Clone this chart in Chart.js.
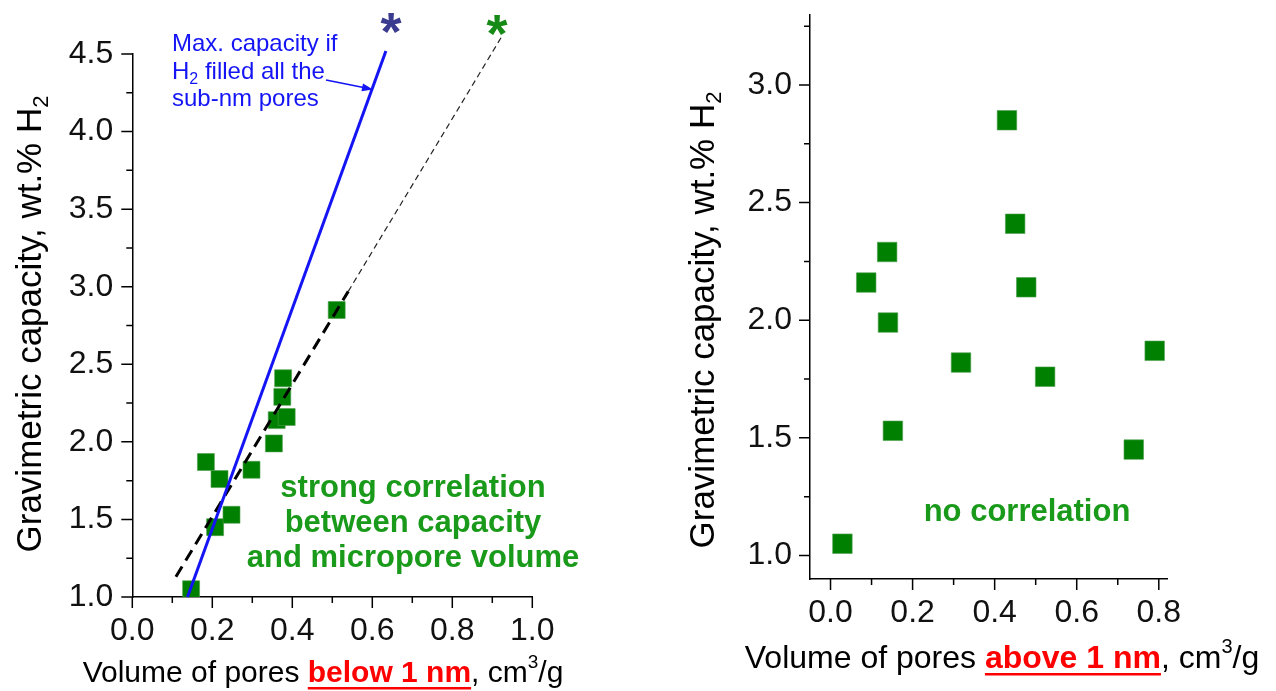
<!DOCTYPE html>
<html>
<head>
<meta charset="utf-8">
<script src="https://cdn.jsdelivr.net/npm/chart.js@4.4.1/dist/chart.umd.min.js"></script>
<style>
  body { margin: 0; background: #fff; }
  canvas { position: absolute; top: 0; }
  #leftChart { left: 0; }
  #rightChart { left: 640px; }
</style>
</head>
<body>
<canvas id="leftChart" width="640" height="691"></canvas>
<canvas id="rightChart" width="636" height="691"></canvas>
<script>
// capacity values, wt.% H2 (same samples on both panels)
const capacity = [1.05, 1.45, 1.53, 1.76, 1.82, 1.87, 1.99, 2.14, 2.16, 2.29, 2.41, 2.85];
// pore volume below 1 nm, cm3/g
const volumeBelow = [0.147, 0.207, 0.248, 0.218, 0.298, 0.184, 0.354, 0.361, 0.386, 0.375, 0.377, 0.511];
// pore volume above 1 nm, cm3/g
const volumeAbove = [0.029, 0.739, 0.152, 0.523, 0.318, 0.79, 0.14, 0.477, 0.087, 0.138, 0.45, 0.43];

// max capacity line (blue) and fitted trend (dashed)
const maxLineX = [0.138, 0.634];
const maxLineY = [1.0, 4.52];
const fitLineX = [0.109, 0.54];
const fitLineY = [1.13, 2.97];
const fitExtX = [0.54, 0.923];
const fitExtY = [2.97, 4.61];

const leftXTicks = [0, 0.2, 0.4, 0.6, 0.8, 1.0];
const leftXMinor = [0.1, 0.3, 0.5, 0.7, 0.9];
const leftYTicks = [1.0, 1.5, 2.0, 2.5, 3.0, 3.5, 4.0, 4.5];
const leftYMinor = [1.25, 1.75, 2.25, 2.75, 3.25, 3.75, 4.25];
const rightXTicks = [0, 0.2, 0.4, 0.6, 0.8];
const rightXMinor = [0.1, 0.3, 0.5, 0.7];
const rightYTicks = [1.0, 1.5, 2.0, 2.5, 3.0];
const rightYMinor = [1.25, 1.75, 2.25, 2.75, 3.25];

const FONT = '"Liberation Sans", Arial, sans-serif';
const GREEN_MARK = '#008000';
const GREEN_TEXT = '#1a9a1a';
const BLUE = '#1414f5';

function pts(xs, ys) {
    return xs.map((x, i) => ({ x: x, y: ys[i] }));
}

function drawRich(ctx, parts, x, y, align, rotate) {
    ctx.save();
    ctx.translate(x, y);
    if (rotate) ctx.rotate(-Math.PI / 2);
    ctx.textBaseline = 'alphabetic';
    ctx.textAlign = 'left';
    let total = 0;
    parts.forEach(p => {
        ctx.font = p.font;
        p.w = ctx.measureText(p.text).width;
        total += p.w;
    });
    let cx = align === 'left' ? 0 : -total / 2;
    parts.forEach(p => {
        ctx.font = p.font;
        ctx.fillStyle = p.color || '#000';
        ctx.fillText(p.text, cx, p.dy || 0);
        if (p.underline) ctx.fillRect(cx, 5, p.w, 2.5);
        cx += p.w;
    });
    ctx.restore();
}

// draws major and minor tick marks outside the axes
const tickMarks = {
    id: 'tickMarks',
    afterDraw(chart, args, opts) {
        const ctx = chart.ctx;
        const xs = chart.scales.x, ys = chart.scales.y;
        ctx.save();
        ctx.strokeStyle = '#000';
        ctx.lineWidth = 1.5;
        ctx.beginPath();
        opts.xMajor.forEach(v => { const p = xs.getPixelForValue(v); ctx.moveTo(p, xs.top); ctx.lineTo(p, xs.top + 11); });
        opts.xMinor.forEach(v => { const p = xs.getPixelForValue(v); ctx.moveTo(p, xs.top); ctx.lineTo(p, xs.top + 6); });
        opts.yMajor.forEach(v => { const p = ys.getPixelForValue(v); ctx.moveTo(ys.right, p); ctx.lineTo(ys.right - 11, p); });
        opts.yMinor.forEach(v => { const p = ys.getPixelForValue(v); ctx.moveTo(ys.right, p); ctx.lineTo(ys.right - 6, p); });
        ctx.stroke();
        ctx.restore();
    }
};

const leftNotes = {
    id: 'leftNotes',
    afterDraw(chart) {
        const ctx = chart.ctx;
        const xs = chart.scales.x, ys = chart.scales.y;
        const n = '30px ' + FONT, b = 'bold 30px ' + FONT, s = '19px ' + FONT;
        drawRich(ctx, [
            { text: 'Volume of pores ', font: n },
            { text: 'below 1 nm', font: b, color: '#f00', underline: true },
            { text: ', cm', font: n },
            { text: '3', font: s, dy: -14 },
            { text: '/g', font: n }
        ], 323, 682, 'center', false);
        drawRich(ctx, [
            { text: 'Gravimetric capacity, wt.% H', font: '35px ' + FONT },
            { text: '2', font: '22px ' + FONT, dy: 7 }
        ], 41, 324, 'center', true);

        // blue label and arrow
        const bn = '24px ' + FONT, bs = '16px ' + FONT;
        drawRich(ctx, [{ text: 'Max. capacity if', font: bn, color: BLUE }], 172, 51, 'left');
        drawRich(ctx, [
            { text: 'H', font: bn, color: BLUE },
            { text: '2', font: bs, color: BLUE, dy: 5 },
            { text: ' filled all the', font: bn, color: BLUE }
        ], 172, 79, 'left');
        drawRich(ctx, [{ text: 'sub-nm pores', font: bn, color: BLUE }], 172, 106, 'left');
        ctx.save();
        ctx.strokeStyle = BLUE; ctx.fillStyle = BLUE; ctx.lineWidth = 1.6;
        ctx.beginPath(); ctx.moveTo(326, 80); ctx.lineTo(366, 88); ctx.stroke();
        const ang = Math.atan2(9, 46);
        ctx.translate(373, 89.5); ctx.rotate(ang);
        ctx.beginPath(); ctx.moveTo(0, 0); ctx.lineTo(-11, -4); ctx.lineTo(-11, 4); ctx.closePath(); ctx.fill();
        ctx.restore();

        // asterisks marking the line ends
        ctx.save();
        ctx.font = 'bold 54px ' + FONT;
        ctx.textAlign = 'center'; ctx.textBaseline = 'middle';
        ctx.fillStyle = '#3b3b8f';
        ctx.fillText('*', xs.getPixelForValue(0.647), ys.getPixelForValue(4.62));
        ctx.fillStyle = '#168a16';
        ctx.fillText('*', xs.getPixelForValue(0.912), ys.getPixelForValue(4.61));

        ctx.font = 'bold 31px ' + FONT;
        ctx.fillStyle = GREEN_TEXT;
        ctx.fillText('strong correlation', 413, 488);
        ctx.fillText('between capacity', 413, 523);
        ctx.fillText('and micropore volume', 413, 558);
        ctx.restore();
    }
};

const rightNotes = {
    id: 'rightNotes',
    afterDraw(chart) {
        const ctx = chart.ctx;
        const n = '32px ' + FONT, b = 'bold 32px ' + FONT, s = '20px ' + FONT;
        drawRich(ctx, [
            { text: 'Volume of pores ', font: n },
            { text: 'above 1 nm', font: b, color: '#f00', underline: true },
            { text: ', cm', font: n },
            { text: '3', font: s, dy: -15 },
            { text: '/g', font: n }
        ], 362, 668, 'center', false);
        drawRich(ctx, [
            { text: 'Gravimetric capacity, wt.% H', font: '35px ' + FONT },
            { text: '2', font: '22px ' + FONT, dy: 7 }
        ], 74, 320, 'center', true);
        ctx.save();
        ctx.font = 'bold 31px ' + FONT;
        ctx.fillStyle = GREEN_TEXT;
        ctx.textAlign = 'center'; ctx.textBaseline = 'middle';
        ctx.fillText('no correlation', 387, 512);
        ctx.restore();
    }
};

function axis(min, max, ticks, isY, size, pad) {
    return {
        type: 'linear',
        min: min,
        max: max,
        afterBuildTicks: scale => { scale.ticks = ticks.map(v => ({ value: v })); },
        afterFit: scale => {
            if (isY) scale.width = size; else scale.height = size;
            scale.paddingTop = 0; scale.paddingBottom = 0;
            scale.paddingLeft = 0; scale.paddingRight = 0;
        },
        grid: { display: true, drawOnChartArea: false, drawTicks: false },
        border: { display: true, color: '#000', width: 1.5 },
        ticks: {
            color: '#111',
            padding: pad,
            font: { family: FONT, size: 32 },
            callback: v => v.toFixed(1)
        }
    };
}

Chart.defaults.animation = false;

new Chart(document.getElementById('leftChart'), {
    type: 'scatter',
    data: {
        datasets: [
            { data: pts(maxLineX, maxLineY), showLine: true, borderColor: BLUE, borderWidth: 3, pointRadius: 0, clip: false },
            { data: pts(fitLineX, fitLineY), showLine: true, borderColor: '#000', borderWidth: 3, borderDash: [12, 7], pointRadius: 0, clip: false },
            { data: pts(fitExtX, fitExtY), showLine: true, borderColor: '#222', borderWidth: 1.2, borderDash: [6, 4], pointRadius: 0, clip: false },
            { data: pts(volumeBelow, capacity), pointStyle: 'rect', pointRadius: 12, backgroundColor: GREEN_MARK, borderColor: '#4fa04f', borderWidth: 0.6 }
        ]
    },
    options: {
        responsive: false,
        devicePixelRatio: 1,
        layout: { padding: { left: 0, top: 54, right: 107.7, bottom: 44 } },
        plugins: {
            legend: { display: false },
            tooltip: { enabled: false },
            tickMarks: { xMajor: leftXTicks, xMinor: leftXMinor, yMajor: leftYTicks, yMinor: leftYMinor }
        },
        scales: {
            x: axis(0, 1.0, leftXTicks, false, 50, 15),
            y: axis(1.0, 4.5, leftYTicks, true, 132.3, 19)
        }
    },
    plugins: [tickMarks, leftNotes]
});

new Chart(document.getElementById('rightChart'), {
    type: 'scatter',
    data: {
        datasets: [
            { data: pts(volumeAbove, capacity), pointStyle: 'rect', pointRadius: 13.8, backgroundColor: GREEN_MARK, borderColor: '#4fa04f', borderWidth: 0.6 }
        ]
    },
    options: {
        responsive: false,
        devicePixelRatio: 1,
        layout: { padding: { left: 0, top: 11, right: 109, bottom: 62 } },
        plugins: {
            legend: { display: false },
            tooltip: { enabled: false },
            tickMarks: { xMajor: rightXTicks, xMinor: rightXMinor, yMajor: rightYTicks, yMinor: rightYMinor }
        },
        scales: {
            x: axis(-0.05, 0.82, rightXTicks, false, 50, 15),
            y: axis(0.9, 3.3, rightYTicks, true, 170, 18)
        }
    },
    plugins: [tickMarks, rightNotes]
});
</script>
</body>
</html>
